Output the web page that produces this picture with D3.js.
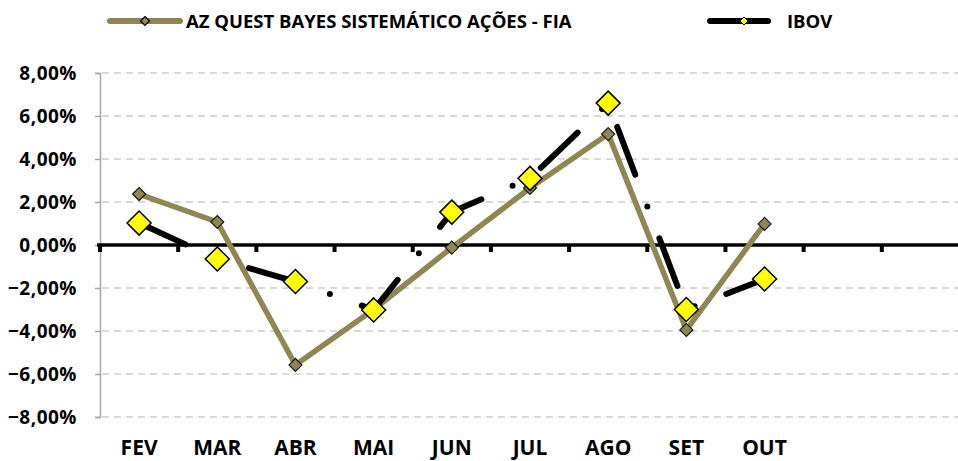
<!DOCTYPE html>
<html>
<head>
<meta charset="utf-8">
<script src="https://cdn.jsdelivr.net/npm/d3@7"></script>
<style>
  body { margin: 0; background: #fff; }
  text { font-family: "Open Sans", "Noto Sans", sans-serif; font-weight: bold; fill: #000; }
</style>
</head>
<body>
<div class="chart"></div>
<script>
// Data (monthly returns, %)
const months = ["FEV", "MAR", "ABR", "MAI", "JUN", "JUL", "AGO", "SET", "OUT"];
const azQuest = [2.37, 1.07, -5.58, -3.0, -0.12, 2.65, 5.16, -3.95, 0.98];
const ibov = [1.02, -0.65, -1.7, -3.02, 1.53, 3.1, 6.6, -3.0, -1.58];
const yTicks = [-8, -6, -4, -2, 0, 2, 4, 6, 8];
const slots = 11; // axis has room for two more months

const width = 958, height = 461;
const margin = {top: 73, bottom: 44, left: 100, right: -2};

const azColor = "#8f8652";

const svg = d3.select(".chart").append("svg")
  .attr("width", width)
  .attr("height", height);

const x = d3.scaleLinear().domain([0, slots]).range([margin.left, width - margin.right]);
const y = d3.scaleLinear().domain([-8, 8]).range([height - margin.bottom, margin.top]);
const cx = i => x(i + 0.5);

// gridlines
svg.append("g").selectAll("line")
  .data(yTicks.filter(v => v !== 0))
  .enter().append("line")
  .attr("x1", x(0) + 2).attr("x2", x(slots))
  .attr("y1", d => y(d)).attr("y2", d => y(d))
  .attr("stroke", "#d9d9d9")
  .attr("stroke-width", 2)
  .attr("stroke-dasharray", "7 5");

// y axis
const yAxis = d3.axisLeft(y).tickValues(yTicks).tickSize(5)
  .tickFormat(d => d3.format(".2f")(d).replace(".", ",") + "%");
const gY = svg.append("g")
  .attr("transform", `translate(${x(0)},0)`)
  .call(yAxis);
gY.select(".domain").attr("stroke", "#a6a6a6").attr("stroke-width", 1.5);
gY.selectAll(".tick line").attr("stroke", "#a6a6a6").attr("stroke-width", 1.5);
gY.selectAll(".tick text")
  .attr("x", -23)
  .attr("dy", "0.36em")
  .style("font-size", "19px")
  .style("letter-spacing", "0.5px")
  .style("font-family", "'Open Sans', sans-serif")
  .style("font-weight", "bold");

// zero line with category ticks
svg.append("line")
  .attr("x1", x(0) - 3).attr("x2", x(slots))
  .attr("y1", y(0)).attr("y2", y(0))
  .attr("stroke", "#000").attr("stroke-width", 3.5);
svg.append("g").selectAll("rect")
  .data(d3.range(slots + 1))
  .enter().append("rect")
  .attr("x", d => x(d) - 2)
  .attr("y", y(0))
  .attr("width", 4)
  .attr("height", 7)
  .attr("fill", "#000");

// x labels
svg.append("g").selectAll("text")
  .data(months)
  .enter().append("text")
  .attr("x", (d, i) => cx(i))
  .attr("y", 455)
  .attr("text-anchor", "middle")
  .style("font-size", "21px")
  .text(d => d);

const line = d3.line()
  .x((d, i) => cx(i))
  .y(d => y(d));

const diamond = (r) => `M0,${-r}L${r},0L0,${r}L${-r},0Z`;

// AZ Quest series
svg.append("path")
  .datum(azQuest)
  .attr("d", line)
  .attr("fill", "none")
  .attr("stroke", azColor)
  .attr("stroke-width", 5.5)
  .attr("stroke-linejoin", "round");
svg.append("g").selectAll("path")
  .data(azQuest)
  .enter().append("path")
  .attr("transform", (d, i) => `translate(${cx(i)},${y(d)})`)
  .attr("d", diamond(6.5))
  .attr("fill", azColor)
  .attr("stroke", "#1a1a1a")
  .attr("stroke-width", 1.2);

// IBOV series
svg.append("path")
  .datum(ibov)
  .attr("d", line)
  .attr("fill", "none")
  .attr("stroke", "#000")
  .attr("stroke-width", 6)
  .attr("stroke-linecap", "round")
  .attr("stroke-linejoin", "round")
  .attr("stroke-dasharray", "51 34 0 34");
svg.append("g").selectAll("path")
  .data(ibov)
  .enter().append("path")
  .attr("transform", (d, i) => `translate(${cx(i)},${y(d)})`)
  .attr("d", diamond(12))
  .attr("fill", "#ffff00")
  .attr("stroke", "#000")
  .attr("stroke-width", 1.5);

// legend
const legend = svg.append("g");
legend.append("line")
  .attr("x1", 110).attr("x2", 180).attr("y1", 21).attr("y2", 21)
  .attr("stroke", azColor).attr("stroke-width", 6).attr("stroke-linecap", "round");
legend.append("path")
  .attr("transform", "translate(145,21)")
  .attr("d", diamond(4.5))
  .attr("fill", azColor).attr("stroke", "#000").attr("stroke-width", 1.2);
legend.append("text")
  .attr("x", 186).attr("y", 28)
  .style("font-size", "18.5px")
  .text("AZ QUEST BAYES SISTEMÁTICO AÇÕES - FIA");

legend.append("line")
  .attr("x1", 710).attr("x2", 768).attr("y1", 21).attr("y2", 21)
  .attr("stroke", "#000").attr("stroke-width", 6).attr("stroke-linecap", "round");
legend.append("path")
  .attr("transform", "translate(744,21)")
  .attr("d", diamond(4))
  .attr("fill", "#ffff00").attr("stroke", "#000").attr("stroke-width", 1);
legend.append("text")
  .attr("x", 787).attr("y", 28)
  .style("font-size", "18.5px")
  .text("IBOV");
</script>
</body>
</html>
